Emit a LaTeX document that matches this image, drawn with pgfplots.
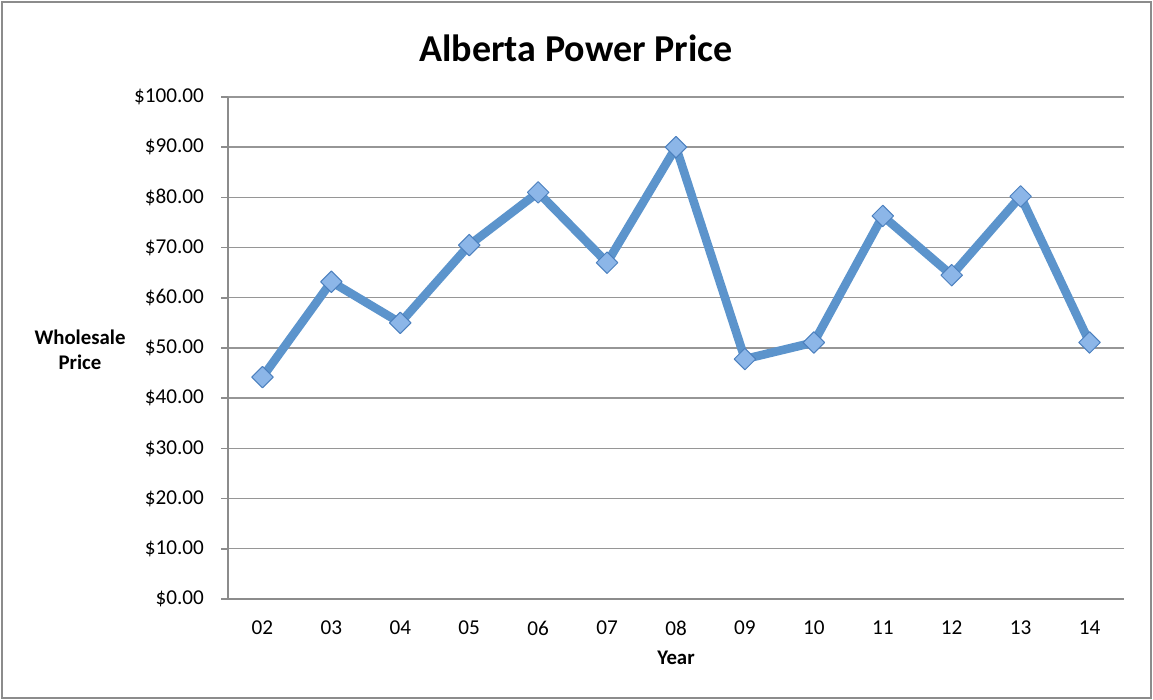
\documentclass[border=0pt]{standalone}
\usepackage{fontspec}
\setmainfont{Carlito}
\usepackage{pgfplots}
\pgfplotsset{compat=1.18}

\definecolor{lineblue}{RGB}{92,148,204}
\definecolor{markfill}{RGB}{140,182,232}
\definecolor{markedge}{RGB}{76,128,190}
\definecolor{gridgray}{RGB}{150,150,150}
\definecolor{axisgray}{RGB}{140,140,140}

\begin{document}
\begin{tikzpicture}
  % canvas and outer frame
  \path (0,0) rectangle (576.5pt,350pt);
  \draw[axisgray, line width=0.8pt] (1pt,1pt) rectangle (575.5pt,349pt);

  \begin{axis}[
      at={(114pt,50.5pt)}, anchor=south west,
      scale only axis,
      width=448pt, height=251pt,
      xmin=-0.5, xmax=12.5,
      ymin=0, ymax=100,
      axis x line*=bottom,
      axis y line*=left,
      axis line style={axisgray, line width=0.8pt, -},
      xtick={0,...,12},
      xticklabels={02,03,04,05,06,07,08,09,10,11,12,13,14},
      major x tick style={draw=none},
      extra x ticks={-0.5,0.5,...,12.5},
      extra x tick labels={},
      extra x tick style={tick align=outside, major tick length=3.5pt,
        tick style={axisgray, line width=0.8pt}, grid=none},
      ytick={0,10,...,100},
      yticklabel={\$\pgfmathprintnumber[fixed,fixed zerofill,precision=2]{\tick}},
      /pgf/number format/assume math mode=true,
      ymajorgrids,
      major grid style={gridgray, line width=0.7pt},
      y tick style={axisgray, line width=0.8pt},
      tick align=outside,
      major tick length=3.5pt,
      tick label style={font=\fontsize{10.6}{12}\selectfont},
      xticklabel style={yshift=-4pt},
      yticklabel style={xshift=-5pt},
    ]
    \addplot[lineblue, line width=4.3pt, line join=round,
      mark=square*, mark size=3.8pt,
      mark options={rotate=45, fill=markfill, draw=markedge, line width=0.5pt}]
      coordinates {
        (0,44.2) (1,63.2) (2,55.0) (3,70.5) (4,81.0) (5,67.0) (6,90.0)
        (7,47.8) (8,51.1) (9,76.3) (10,64.5) (11,80.2) (12,51.1)
      };
  \end{axis}

  \node[font=\fontsize{19}{22}\selectfont\bfseries] at (288pt,326pt) {Alberta Power Price};
  \node[font=\fontsize{10.4}{12.5}\selectfont\bfseries, align=center] at (40pt,175pt) {Wholesale\\Price};
  \node[font=\fontsize{10.4}{12}\selectfont\bfseries] at (338pt,21pt) {Year};
\end{tikzpicture}
\end{document}
